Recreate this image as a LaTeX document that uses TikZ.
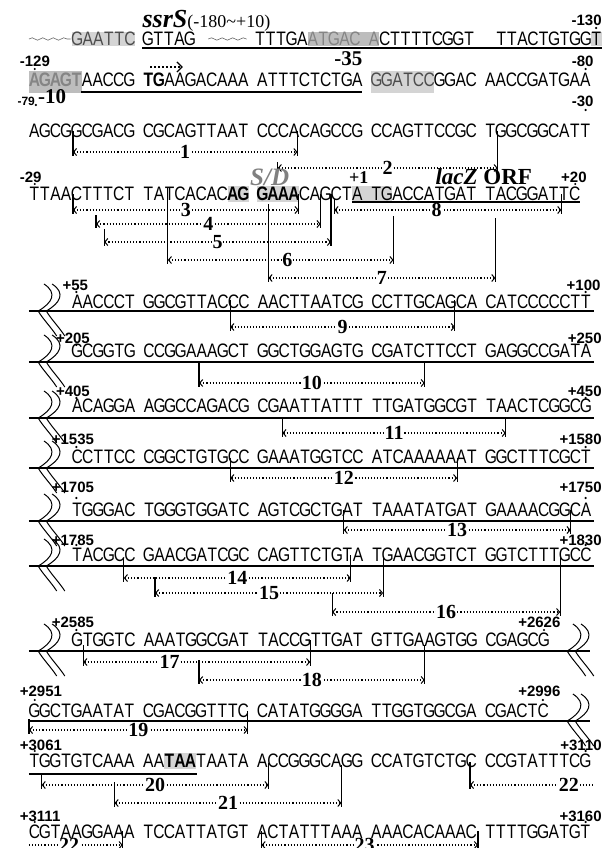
\documentclass[tikz,border=0pt]{standalone}
\usepackage{fontspec}
\setmainfont{Liberation Serif}
\newfontfamily\seqfont[FakeStretch=0.8]{Liberation Sans}
\newfontfamily\posfont{Liberation Sans}
\usepackage{xcolor}
\usetikzlibrary{arrows.meta,decorations.pathmorphing}
\definecolor{hlgray}{gray}{0.83}
\definecolor{hldark}{gray}{0.74}
\definecolor{hltext}{gray}{0.52}
% sequence letters on a fixed pitch, / = gap between blocks
\newlength{\seqcw}\setlength{\seqcw}{10.55pt}
\newlength{\seqgw}\setlength{\seqgw}{8.5pt}
\newif\ifhl
\def\hlcol{hlgray}\def\hldp{-1.5pt}\def\hlht{16pt}
\newcommand{\hlon}{\hltrue\def\hlcol{hlgray}}
\newcommand{\hdon}{\hltrue\def\hlcol{hldark}}
\newcommand{\hloff}{\hlfalse}
\newcommand{\hltxt}{\color{hltext}}
\newcommand{\dgtxt}{\color{black!70}}
\newcommand{\nrm}{\color{black}\mdseries}
\newcommand{\seqcell}[1]{\ifhl{\setlength{\fboxsep}{0pt}\colorbox{\hlcol}{\rule[\hldp]{0pt}{\hlht}\makebox[\seqcw]{#1}}}\else\makebox[\seqcw]{#1}\fi}
\newcommand{\seqgap}{\ifhl{\color{\hlcol}\rule[\hldp]{\seqgw}{\hlht}}\else\hspace*{\seqgw}\fi}
\def\mono#1{\monoi#1\relax}
\def\monoi#1{\ifx#1\relax\else\ifx#1/\seqgap\else\ifcat A\noexpand#1\seqcell{#1}\else#1\fi\fi\expandafter\monoi\fi}
% fragment: x1, x2, arrow y, top1, top2, label, label pos
\newcommand{\frag}[7]{%
  \draw[fragtick] (#1,#4)--(#1,#3+4);
  \draw[fragtick] (#2,#5)--(#2,#3+4);
  \draw[fragline] (#1,#3)--(#2,#3) node[fraglab,pos=#7] (f#6) {#6};}
% break mark: x, y of the line
\newcommand{\brk}[2]{%
  \foreach \d in {0,7}{%
    \draw[brkline] (#1+\d+5,#2-27) .. controls (#1+\d+17,#2-18) and (#1+\d+12,#2-8) .. (#1+\d,#2)
      .. controls (#1+\d+4,#2+8) and (#1+\d+11,#2+16) .. (#1+\d+16,#2+25);}}
\newcommand{\pdot}[2]{\fill (#1,#2) circle (1.2pt);}

\begin{document}
\begin{tikzpicture}[x=1.1574pt,y=-1pt,
  seq/.style={font=\seqfont\fontsize{19.5}{19.5}\selectfont,inner sep=0pt,anchor=base west},
  poslab/.style={font=\posfont\bfseries\fontsize{15}{15}\selectfont,inner sep=0pt},
  motif/.style={font=\bfseries\fontsize{21}{21}\selectfont,inner sep=0pt},
  uline/.style={line width=1.1pt},
  fragtick/.style={line width=1.2pt},
  fragline/.style={dotted,line width=1.1pt,
    {Straight Barb[length=3pt,width=7pt,line width=1pt]}-{Straight Barb[length=3pt,width=7pt,line width=1pt]}},
  fraglab/.style={fill=white,inner sep=0.6pt,text height=13.5pt,text depth=0pt,font=\bfseries\fontsize{20}{20}\selectfont},
  brkline/.style={line width=1pt},
  wav/.style={decorate,decoration={snake,amplitude=1.2pt,segment length=10.5pt},black!60,line width=0.6pt}]
\useasboundingbox (0,0) rectangle (522.7,848);

% -180 .. -130
\node[anchor=base west,inner sep=0pt] (ssrs) at (123,28)
  {\fontsize{26}{26}\selectfont\bfseries\itshape ssrS\fontsize{18}{18}\selectfont\mdseries\upshape(-180\textasciitilde+10)};
\node[poslab,anchor=east] (p130) at (520,20) {-130}; \pdot{515}{28}
\draw[wav] (25,39)--(61,39);
\node[seq] (gaattc) at (62,45.5) {\def\hlht{14.5pt}\def\hldp{-1pt}\mono{\hlon\dgtxt GAATTC}};
\node[seq] (gttag) at (123,45.5) {\mono{GTTAG}};
\draw[wav] (180,39)--(213,39);
\node[seq] (rowA) at (220,45.5) {\def\hlht{14.5pt}\def\hldp{-1pt}\mono{TTTGA\hdon\hltxt ATGAC/A\hloff\nrm CTTTTCGGT}};
\node[seq,anchor=base east] (rowA2) at (520,45.5) {\def\hlht{14.5pt}\def\hldp{-1pt}\mono{TTACTGTGG\hlon T}};
\draw[uline] (123,48)--(520,48);
\node[motif] (m35) at (301,59) {-35};

% -129 .. -80
\node[poslab,anchor=west] (p129) at (17,61) {-129}; \pdot{30}{69}
\node[poslab,anchor=east] (p80) at (513,61) {-80}; \pdot{506}{69}
\coordinate (tgs) at (130,67); \coordinate (tge) at (158,67);
\draw[dotted,line width=2pt,-{Straight Barb[length=5pt,width=10pt,line width=1.3pt]}] (tgs)--(tge);
\node[seq] (rowB) at (25,87) {\def\hlht{21.5pt}\def\hldp{-6pt}\mono{\hdon\hltxt\bfseries AGAGT\hloff\nrm AACCG/\bfseries TG\mdseries AAGACAAA/ATTTCTCTGA/\hlon\dgtxt GGATCC\hloff\nrm GGAC/AACCGATGAA}};
\draw[uline] (70,92)--(313,92);
\node[motif] (m10) at (45,97) {-10};

% -79 .. -30
\node[poslab,anchor=west,font=\posfont\bfseries\fontsize{12}{12}\selectfont] (p79) at (15,101) {-79}; \pdot{31}{105}
\node[poslab,anchor=east] (p30) at (513,101) {-30}; \pdot{506}{110}
\node[seq] (rowC) at (25,137) {\mono{AGCGGCGACG/CGCAGTTAAT/CCCACAGCCG/CCAGTTCCGC/TGGCGGCATT}};
\frag{63}{257}{152}{131}{131}{1}{0.5}
\frag{240}{430}{168}{162}{131}{2}{0.5}

% -29 .. +20
\node[poslab,anchor=west] (p29) at (17,177) {-29}; \pdot{30}{184}
\node[poslab,anchor=east] (p20) at (507,177) {+20}; \pdot{497}{184}
\node[motif,font=\bfseries\itshape\fontsize{25}{25}\selectfont,text=black!50] (sd) at (233,177) {S/D};
\node[motif,font=\bfseries\fontsize{18}{18}\selectfont] (p1) at (310,178) {+1};
\node[motif,font=\bfseries\fontsize{23}{23}\selectfont] (orf) at (418,177) {\textit{lacZ} ORF};
\node[seq] (rowD) at (25,200) {\mono{TTAACTTTCT/TATCACAC\hlon\bfseries AG\hloff/\hlon GAAA\hloff\mdseries CAGCT\hlon A/TG\hloff ACCATGAT/TACGGATTC}};
\draw[uline] (304,202)--(501,202);
\frag{63}{258}{210}{194}{194}{3}{0.5}
\frag{83}{277}{224}{215}{194}{4}{0.5}
\frag{90}{286}{242}{229}{194}{5}{0.5}
\frag{145}{340}{260}{187}{216}{6}{0.53}
\frag{232}{428}{278}{204}{218}{7}{0.5}
\frag{289}{485}{210}{199}{194}{8}{0.45}

% +55 .. +100
\node[poslab] (p55) at (65,285) {+55}; \pdot{66}{292}
\node[poslab,anchor=east] (p100) at (519,285) {+100}; \pdot{506}{292}
\node[seq] (rowE) at (62,308) {\mono{AACCCT/GGCGTTACCC/AACTTAATCG/CCTTGCAGCA/CATCCCCCTT}};
\draw[uline] (25,311)--(513,311); \brk{33}{311}
\frag{199}{393}{327}{300}{300}{9}{0.5}

% +205 .. +250
\node[poslab] (p205) at (63,338) {+205}; \pdot{66}{345}
\node[poslab,anchor=east] (p250) at (520,338) {+250}; \pdot{506}{345}
\node[seq] (rowF) at (62,357) {\mono{GCGGTG/CCGGAAAGCT/GGCTGGAGTG/CGATCTTCCT/GAGGCCGATA}};
\draw[uline] (25,362)--(513,362); \brk{33}{362}
\frag{172}{367}{383}{362}{362}{10}{0.5}

% +405 .. +450
\node[poslab] (p405) at (63,391) {+405}; \pdot{66}{398}
\node[poslab,anchor=east] (p450) at (520,391) {+450}; \pdot{506}{398}
\node[seq] (rowG) at (62,412) {\mono{ACAGGA/AGGCCAGACG/CGAATTATTT/TTGATGGCGT/TAACTCGGCG}};
\draw[uline] (25,418)--(513,418); \brk{33}{418}
\frag{244}{437}{433}{418}{418}{11}{0.5}

% +1535 .. +1580
\node[poslab] (p1535) at (63,439) {+1535}; \pdot{66}{447}
\node[poslab,anchor=east] (p1580) at (520,439) {+1580}; \pdot{506}{447}
\node[seq] (rowH) at (62,463) {\mono{CCTTCC/CGGCTGTGCC/GAAATGGTCC/ATCAAAAAAT/GGCTTTCGCT}};
\draw[uline] (25,468)--(513,468); \brk{33}{468}
\frag{199}{395}{478}{458}{458}{12}{0.5}

% +1705 .. +1750
\node[poslab] (p1705) at (63,487) {+1705}; \pdot{66}{498}
\node[poslab,anchor=east] (p1750) at (520,487) {+1750}; \pdot{506}{498}
\node[seq] (rowI) at (62,516) {\mono{TGGGAC/TGGGTGGATC/AGTCGCTGAT/TAAATATGAT/GAAAACGGCA}};
\draw[uline] (25,521)--(513,521); \brk{33}{521}
\frag{297}{493}{530}{510}{510}{13}{0.5}

% +1785 .. +1830
\node[poslab] (p1785) at (63,540) {+1785}; \pdot{66}{545}
\node[poslab,anchor=east] (p1830) at (520,540) {+1830}; \pdot{506}{545}
\node[seq] (rowJ) at (62,561) {\mono{TACGCC/GAACGATCGC/CAGTTCTGTA/TGAACGGTCT/GGTCTTTGCC}};
\draw[uline] (25,566)--(513,566); \brk{33}{566}
\frag{107}{303}{578}{558}{555}{14}{0.5}
\frag{134}{331}{593}{577}{556}{15}{0.5}
\frag{287}{484}{612}{593}{556}{16}{0.5}

% +2585 .. +2626
\node[poslab] (p2585) at (63,622) {+2585}; \pdot{66}{630}
\node[poslab] (p2626) at (466,622) {+2626}; \pdot{470}{630}
\node[seq] (rowK) at (62,646) {\mono{GTGGTC/AAATGGCGAT/TACCGTTGAT/GTTGAAGTGG/CGAGCG}};
\draw[uline] (25,651)--(510,651); \brk{33}{651} \brk{490}{651}
\frag{72}{268}{662}{645}{640}{17}{0.38}
\frag{172}{367}{680}{660}{645}{18}{0.5}

% +2951 .. +2996
\node[poslab,anchor=west] (p2951) at (17,691) {+2951}; \pdot{30}{700}
\node[poslab] (p2996) at (466,691) {+2996}; \pdot{469}{700}
\node[seq] (rowL) at (25,717) {\mono{GGCTGAATAT/CGACGGTTTC/CATATGGGGA/TTGGTGGCGA/CGACTC}};
\draw[uline] (25,721)--(510,721); \brk{490}{721}
\frag{25}{214}{730}{719}{711}{19}{0.5}

% +3061 .. +3110
\node[poslab,anchor=west] (p3061) at (17,745) {+3061}; \pdot{30}{751}
\node[poslab,anchor=east] (p3110) at (520,745) {+3110}; \pdot{506}{751}
\node[seq] (rowM) at (25,767) {\mono{TGGTGTCAAA/AA\hlon\bfseries TAA\hloff\mdseries TAATA/ACCGGGCAGG/CCATGTCTGC/CCGTATTTCG}};
\draw[uline] (25,774)--(170,774);
\frag{36}{232}{785}{774}{763}{20}{0.5}
\frag{99}{295}{803}{782}{765}{21}{0.5}
\draw[fragtick] (406,762)--(406,789);
\draw[fragline,{Straight Barb[length=3pt,width=7pt,line width=1pt]}-] (406,785)--(513,785) node[fraglab,pos=0.8] (f22a) {22};

% +3111 .. +3160
\node[poslab,anchor=west] (p3111) at (17,816) {+3111}; \pdot{30}{822}
\node[poslab,anchor=east] (p3160) at (520,816) {+3160}; \pdot{506}{822}
\node[seq] (rowN) at (25,838) {\mono{CGTAAGGAAA/TCCATTATGT/ACTATTTAAA/AAACACAAAC/TTTTGGATGT}};
\draw[fragtick] (106,831)--(106,848);
\draw[fragline,-{Straight Barb[length=3pt,width=7pt,line width=1pt]}] (25,845)--(106,845) node[fraglab,pos=0.43] (f22b) {22};
\frag{226}{413}{845}{831}{831}{23}{0.476}
\end{tikzpicture}
\end{document}
